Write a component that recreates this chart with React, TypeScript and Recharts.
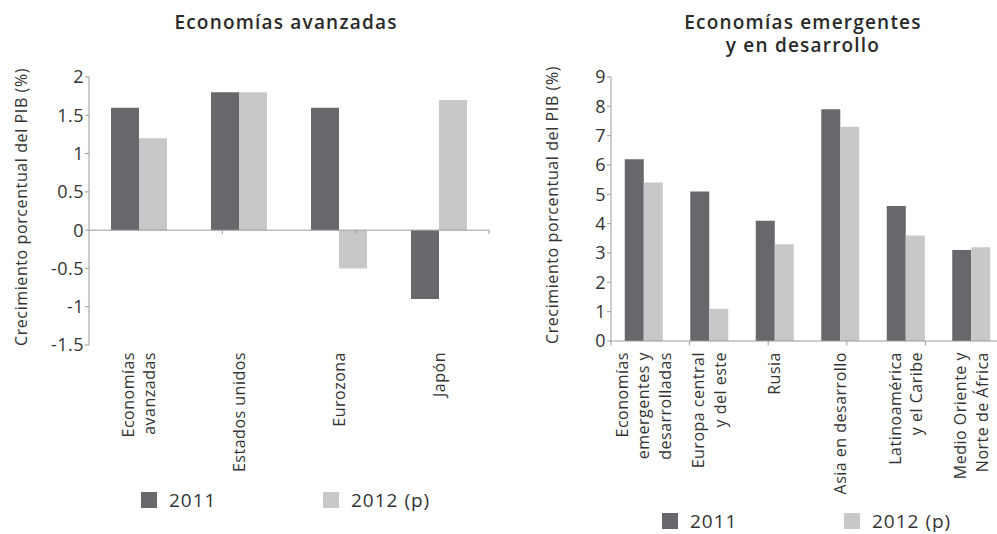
import React from 'react';
import { BarChart, Bar, XAxis, YAxis, ReferenceLine, Legend } from 'recharts';

const FONT = '"Open Sans", "Noto Sans", sans-serif';
const DARK = '#68686c';
const LIGHT = '#c8c8ca';
const AXIS = '#9a9a9a';
const TEXT = '#333333';

const seriesNames = ['2011', '2012 (p)'];
const yLabel = 'Crecimiento porcentual del PIB (%)';

const advTitle = ['Economías avanzadas'];
const advCategories = ['Economías avanzadas', 'Estados unidos', 'Eurozona', 'Japón'];
const advLabels = [['Economías', 'avanzadas'], ['Estados unidos'], ['Eurozona'], ['Japón']];
const adv2011 = [1.6, 1.8, 1.6, -0.9];
const adv2012 = [1.2, 1.8, -0.5, 1.7];
const advTicks = [-1.5, -1, -0.5, 0, 0.5, 1, 1.5, 2];
const advBounds = [1, 2, 3];

const emTitle = ['Economías emergentes', 'y en desarrollo'];
const emCategories = [
  'Economías emergentes y desarrolladas',
  'Europa central y del este',
  'Rusia',
  'Asia en desarrollo',
  'Latinoamérica y el Caribe',
  'Medio Oriente y Norte de África',
];
const emLabels = [
  ['Economías', 'emergentes y', 'desarrolladas'],
  ['Europa central', 'y del este'],
  ['Rusia'],
  ['Asia en desarrollo'],
  ['Latinoamérica', 'y el Caribe'],
  ['Medio Oriente y', 'Norte de África'],
];
const em2011 = [6.2, 5.1, 4.1, 7.9, 4.6, 3.1];
const em2012 = [5.4, 1.1, 3.3, 7.3, 3.6, 3.2];
const emTicks = [0, 1, 2, 3, 4, 5, 6, 7, 8, 9];
const emBounds = [0, 1, 2, 3, 4, 5, 6];

const advData = advCategories.map((c, i) => ({ name: c, a: adv2011[i], b: adv2012[i] }));
const emData = emCategories.map((c, i) => ({ name: c, a: em2011[i], b: em2012[i] }));

const makeTick = (cats: string[], labels: string[][], top: number, fs: number, lh: number) => (props: any) => {
  const { x, payload } = props;
  const idx = cats.indexOf(payload.value);
  const lines = labels[idx] || [];
  const n = lines.length;
  return (
    <g transform={`translate(${x},${top}) rotate(-90)`}>
      {lines.map((l, i) => (
        <text
          key={i}
          x={0}
          y={(i - (n - 1) / 2) * lh}
          dy={fs * 0.35}
          textAnchor="end"
          fontSize={fs}
          fontFamily={FONT}
          letterSpacing={0.5}
          fill={TEXT}
        >
          {l}
        </text>
      ))}
    </g>
  );
};

const makeYLabel = (dx: number) => (props: any) => {
  const vb = props.viewBox || { x: 0, y: 0, width: 0, height: 0 };
  const cx = vb.x + dx;
  const cy = vb.y + vb.height / 2 - 4;
  return (
    <text
      transform={`translate(${cx},${cy}) rotate(-90)`}
      textAnchor="middle"
      dominantBaseline="central"
      fontSize={16}
      fontFamily={FONT}
      letterSpacing={0.6}
      fill={TEXT}
    >
      {yLabel}
    </text>
  );
};

const LegendContent = (props: any) => {
  const { payload } = props;
  return (
    <div style={{ display: 'flex', fontFamily: FONT, fontSize: 19, letterSpacing: 1, color: TEXT }}>
      {(payload || []).map((p: any, i: number) => (
        <div key={i} style={{ width: 182, display: 'flex', alignItems: 'center' }}>
          <span style={{ display: 'inline-block', width: 16, height: 16, background: p.color, marginRight: 12 }} />
          <span>{p.value}</span>
        </div>
      ))}
    </div>
  );
};

const Title = ({ lines, cx, top }: { lines: string[]; cx: number; top: number }) => (
  <div
    style={{
      position: 'absolute',
      left: cx - 200,
      top,
      width: 400,
      textAlign: 'center',
      fontFamily: FONT,
      fontSize: 19,
      fontWeight: 600,
      letterSpacing: 1.2,
      lineHeight: '23px',
      color: '#2a2a2a',
    }}
  >
    {lines.map((l, i) => (
      <React.Fragment key={i}>
        {i > 0 && <br />}
        {l}
      </React.Fragment>
    ))}
  </div>
);

const yTick = { fontSize: 18, fill: TEXT, fontFamily: FONT, letterSpacing: 0.5 };

export default function App() {
  return (
    <div
      style={{
        position: 'fixed',
        left: 0,
        top: 0,
        width: 997,
        height: 534,
        overflow: 'hidden',
        background: '#fff',
      }}
    >
      <Title lines={advTitle} cx={286} top={11} />
      <Title lines={emTitle} cx={803} top={11} />

      <div style={{ position: 'absolute', left: 0, top: 0 }}>
        <BarChart
          width={500}
          height={534}
          data={advData}
          margin={{ top: 77, right: 11, bottom: 0, left: 0 }}
          barCategoryGap="22%"
          barGap={0}
        >
          <XAxis
            xAxisId="c"
            dataKey="name"
            height={189}
            axisLine={false}
            tickLine={false}
            interval={0}
            tick={makeTick(advCategories, advLabels, 352, 16, 21)}
          />
          <XAxis xAxisId="n" type="number" domain={[0, 4]} allowDataOverflow hide />
          <YAxis
            width={89}
            domain={[-1.5, 2]}
            ticks={advTicks}
            interval={0}
            allowDataOverflow
            axisLine={{ stroke: AXIS }}
            tickLine={{ stroke: AXIS }}
            tickSize={4}
            tickMargin={1}
            tick={yTick}
            label={{ content: makeYLabel(21) }}
          />
          <ReferenceLine xAxisId="c" y={0} stroke={AXIS} />
          {advBounds.map((b) => (
            <ReferenceLine
              key={b}
              xAxisId="n"
              segment={[{ x: b, y: 0 }, { x: b, y: -0.05 }]}
              stroke={AXIS}
              ifOverflow="visible"
            />
          ))}
          <Bar xAxisId="c" dataKey="a" name={seriesNames[0]} fill={DARK} isAnimationActive={false} />
          <Bar xAxisId="c" dataKey="b" name={seriesNames[1]} fill={LIGHT} isAnimationActive={false} />
          <Legend
            layout="horizontal"
            verticalAlign="middle"
            align="center"
            content={LegendContent}
            wrapperStyle={{ position: 'absolute', left: 141, top: 487, width: 'auto' }}
          />
        </BarChart>
      </div>

      <div style={{ position: 'absolute', left: 500, top: 0 }}>
        <BarChart
          width={510}
          height={534}
          data={emData}
          margin={{ top: 77, right: 6, bottom: 0, left: 0 }}
          barCategoryGap="21%"
          barGap={0}
        >
          <XAxis
            xAxisId="c"
            dataKey="name"
            height={193}
            axisLine={{ stroke: AXIS }}
            tickLine={false}
            interval={0}
            tick={makeTick(emCategories, emLabels, 352, 16, 21.5)}
          />
          <XAxis xAxisId="n" type="number" domain={[0, 6]} allowDataOverflow hide />
          <YAxis
            width={111}
            domain={[0, 9]}
            ticks={emTicks}
            interval={0}
            allowDataOverflow
            axisLine={{ stroke: AXIS }}
            tickLine={{ stroke: AXIS }}
            tickSize={4}
            tickMargin={1}
            tick={yTick}
            label={{ content: makeYLabel(52) }}
          />
          {emBounds.map((b) => (
            <ReferenceLine
              key={b}
              xAxisId="n"
              segment={[{ x: b, y: 0 }, { x: b, y: -0.15 }]}
              stroke={AXIS}
              ifOverflow="visible"
            />
          ))}
          <Bar xAxisId="c" dataKey="a" name={seriesNames[0]} fill={DARK} isAnimationActive={false} />
          <Bar xAxisId="c" dataKey="b" name={seriesNames[1]} fill={LIGHT} isAnimationActive={false} />
          <Legend
            layout="horizontal"
            verticalAlign="middle"
            align="center"
            content={LegendContent}
            wrapperStyle={{ position: 'absolute', left: 162, top: 508, width: 'auto' }}
          />
        </BarChart>
      </div>
    </div>
  );
}
